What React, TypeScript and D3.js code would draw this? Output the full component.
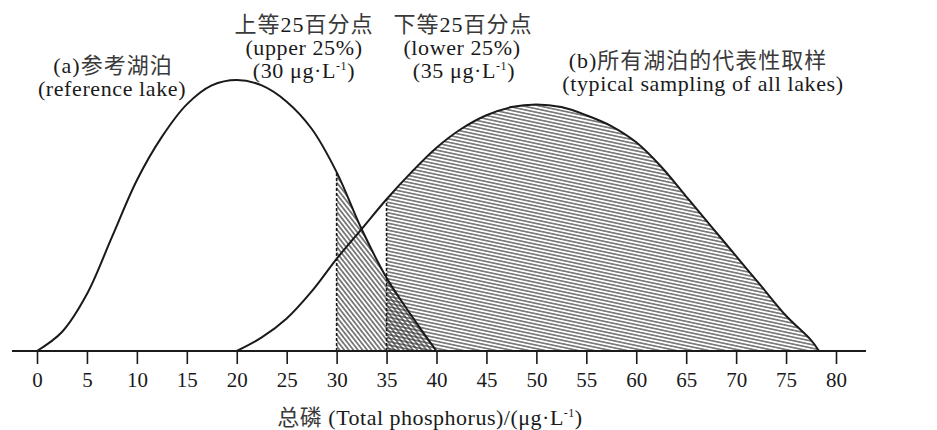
import React, { useEffect, useRef } from 'react'
import * as d3 from 'd3'

const WIDTH = 937
const HEIGHT = 430

// (a) reference lake curve
const refX = [0, 2.5, 5, 7.5, 10, 12.5, 15, 17.5, 20, 22.5, 25, 27.5, 30, 32.5, 35, 37.5, 40]
const refY = [0, 0.07, 0.21, 0.42, 0.63, 0.79, 0.91, 0.98, 1.0, 0.98, 0.92, 0.82, 0.66, 0.45, 0.27, 0.13, 0]

// (b) typical sampling of all lakes
const allX = [20, 22.5, 25, 27.5, 30, 32.5, 35, 37.5, 40, 42.5, 45, 47.5, 50, 52.5, 55, 57.5, 60, 62.5, 65, 67.5, 70, 72.5, 75, 77.5, 78.3]
const allY = [0, 0.05, 0.12, 0.22, 0.34, 0.45, 0.56, 0.66, 0.75, 0.82, 0.87, 0.9, 0.91, 0.9, 0.87, 0.83, 0.77, 0.68, 0.57, 0.46, 0.35, 0.24, 0.13, 0.04, 0]

const xTicks = [0, 5, 10, 15, 20, 25, 30, 35, 40, 45, 50, 55, 60, 65, 70, 75, 80]

const UPPER = 30
const LOWER = 35

const FONT = '"Liberation Serif", "Times New Roman", "Noto Sans CJK SC", serif'
const INK = '#1a1a1a'
const CJK_INK = '#3a3a3a'

type Pt = { x: number; y: number }

export default function App() {
  const ref = useRef<SVGGElement>(null)

  useEffect(() => {
    const ptsA: Pt[] = refX.map((x, i) => ({ x, y: refY[i] }))
    const ptsB: Pt[] = allX.map((x, i) => ({ x, y: allY[i] }))

    const xScale = d3.scaleLinear().domain([0, 80]).range([37, 836])
    const yScale = d3.scaleLinear().domain([0, 1]).range([351, 80])

    const g = d3.select(ref.current)
    g.selectAll('*').remove()

    const defs = g.append('defs')

    const hatchB = defs.append('pattern')
      .attr('id', 'hatchB')
      .attr('patternUnits', 'userSpaceOnUse')
      .attr('width', 10)
      .attr('height', 3.4)
      .attr('patternTransform', 'rotate(12)')
    hatchB.append('line')
      .attr('x1', 0).attr('x2', 10)
      .attr('y1', 1.7).attr('y2', 1.7)
      .attr('stroke', '#333')
      .attr('stroke-width', 1.1)

    const hatchA = defs.append('pattern')
      .attr('id', 'hatchA')
      .attr('patternUnits', 'userSpaceOnUse')
      .attr('width', 10)
      .attr('height', 3.6)
      .attr('patternTransform', 'rotate(52)')
    hatchA.append('line')
      .attr('x1', 0).attr('x2', 10)
      .attr('y1', 1.8).attr('y2', 1.8)
      .attr('stroke', '#333')
      .attr('stroke-width', 1.2)

    defs.append('clipPath').attr('id', 'clipA')
      .append('rect')
      .attr('x', xScale(UPPER)).attr('y', 0)
      .attr('width', xScale(40) - xScale(UPPER))
      .attr('height', yScale(0))

    defs.append('clipPath').attr('id', 'clipB')
      .append('rect')
      .attr('x', xScale(LOWER)).attr('y', 0)
      .attr('width', xScale(80) - xScale(LOWER))
      .attr('height', yScale(0))

    const curve = d3.curveCatmullRom.alpha(0.5)

    const area = d3.area<Pt>()
      .x((d) => xScale(d.x))
      .y0(yScale(0))
      .y1((d) => yScale(d.y))
      .curve(curve)

    const line = d3.line<Pt>()
      .x((d) => xScale(d.x))
      .y((d) => yScale(d.y))
      .curve(curve)

    g.append('path')
      .datum(ptsA)
      .attr('d', area)
      .attr('fill', 'url(#hatchA)')
      .attr('clip-path', 'url(#clipA)')

    g.append('path')
      .datum(ptsB)
      .attr('d', area)
      .attr('fill', 'url(#hatchB)')
      .attr('clip-path', 'url(#clipB)')

    ;[ptsA, ptsB].forEach((pts) => {
      g.append('path')
        .datum(pts)
        .attr('d', line)
        .attr('fill', 'none')
        .attr('stroke', INK)
        .attr('stroke-width', 2)
    })

    // dashed percentile lines
    const cut = [
      { x: UPPER, y: refY[refX.indexOf(UPPER)] },
      { x: LOWER, y: allY[allX.indexOf(LOWER)] },
    ]
    g.selectAll('line.cut')
      .data(cut)
      .enter()
      .append('line')
      .attr('class', 'cut')
      .attr('x1', (d) => xScale(d.x))
      .attr('x2', (d) => xScale(d.x))
      .attr('y1', yScale(0))
      .attr('y2', (d) => yScale(d.y))
      .attr('stroke', INK)
      .attr('stroke-width', 1.6)
      .attr('stroke-dasharray', '3,2')

    // x axis
    const xAxis = g.append('g')
      .attr('transform', `translate(0, ${yScale(0)})`)
      .call(
        d3.axisBottom(xScale)
          .tickValues(xTicks)
          .tickFormat(d3.format('d'))
          .tickSize(13)
          .tickSizeOuter(0)
          .tickPadding(8)
      )
    xAxis.select('.domain').remove()
    xAxis.selectAll('.tick line').attr('stroke', INK).attr('stroke-width', 1.6)
    xAxis.selectAll('.tick text')
      .attr('fill', INK)
      .style('font-family', FONT)
      .style('font-size', '21px')
    xAxis.append('line')
      .attr('x1', xScale(-2.5))
      .attr('x2', xScale(83))
      .attr('stroke', INK)
      .attr('stroke-width', 2)
  }, [])

  const txt = {
    fontFamily: FONT,
    fontSize: 22,
    fill: INK,
    textAnchor: 'middle' as const,
  }
  const sup = { fontSize: 12 }
  const cjk = { fill: CJK_INK }

  return (
    <svg
      width={WIDTH}
      height={HEIGHT}
      style={{ position: 'absolute', left: 0, top: 0, background: '#fff' }}
    >
      <g ref={ref} />
      <g style={txt}>
        <text x={113} y={73} letterSpacing={1}>(a)<tspan style={cjk}>参考湖泊</tspan></text>
        <text x={112} y={96} letterSpacing={0.6}>(reference lake)</text>

        <text x={304} y={32} letterSpacing={1}>
          <tspan style={cjk}>上等</tspan>25<tspan style={cjk}>百分点</tspan>
        </text>
        <text x={304} y={55} letterSpacing={0.6}>(upper 25%)</text>
        <text x={304} y={78} letterSpacing={0.6}>
          (30 μg·L<tspan dy={-8} style={sup}>-1</tspan><tspan dy={8}>)</tspan>
        </text>

        <text x={463} y={32} letterSpacing={1}>
          <tspan style={cjk}>下等</tspan>25<tspan style={cjk}>百分点</tspan>
        </text>
        <text x={462} y={55} letterSpacing={0.6}>(lower 25%)</text>
        <text x={464} y={78} letterSpacing={0.6}>
          (35 μg·L<tspan dy={-8} style={sup}>-1</tspan><tspan dy={8}>)</tspan>
        </text>

        <text x={698} y={68} letterSpacing={1}>(b)<tspan style={cjk}>所有湖泊的代表性取样</tspan></text>
        <text x={703} y={91} letterSpacing={0.6}>(typical sampling of all lakes)</text>

        <text x={430} y={425} letterSpacing={0.5}>
          <tspan style={cjk}>总磷</tspan> (Total phosphorus)/(μg·L<tspan dy={-8} style={sup}>-1</tspan><tspan dy={8}>)</tspan>
        </text>
      </g>
    </svg>
  )
}
